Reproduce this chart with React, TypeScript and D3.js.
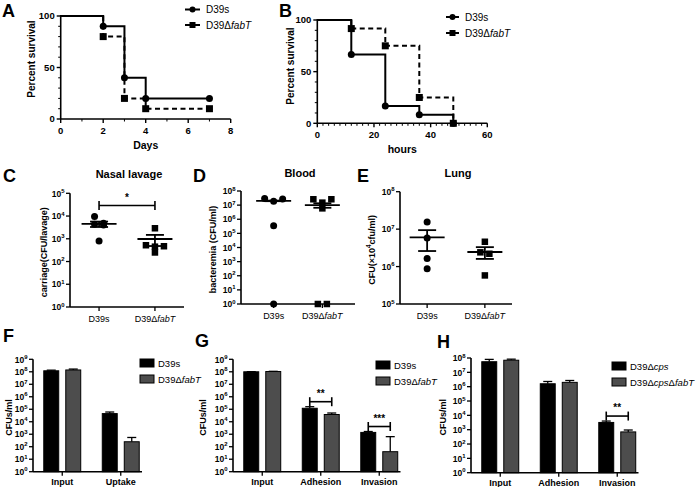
import React from "react";
import * as d3 from "d3";

const FONT = "'Liberation Sans', Arial, Helvetica, sans-serif";

// ---------- Panel A : survival (days)
const daysA = [0, 2, 3, 4, 7];
const survA_D39s = [100, 90, 40, 20, 20];
const survA_fabT = [100, 80, 20, 10, 10];

// ---------- Panel B : survival (hours)
const hoursB = [0, 12, 24, 36, 48];
const survB_D39s = [100, 66.7, 16.7, 8.3, 0];
const survB_fabT = [100, 91.7, 75, 25, 0];

const strains = ["D39s", "D39ΔfabT"];
const cpsStrains = ["D39Δcps", "D39ΔcpsΔfabT"];

// ---------- Panel C : nasal lavage
const nasal_D39s = [9500, 4800, 4300, 4000, 800];
const nasal_fabT = [2900, 520, 470, 450, 250];
const nasalMean = [4500, 980];
const nasalSem = [1200, 500];

// ---------- Panel D : blood
const blood_D39s = [3.0e7, 2.7e7, 1.9e7, 3.4e5, 1];
const blood_fabT = [2.6e7, 2.6e7, 1.5e7, 5.9e6, 1, 1];
const bloodMean = [2.0e7, 1.0e7];
const bloodSem = [1.0e6, 3.5e6];

// ---------- Panel E : lung
const lung_D39s = [1.56e7, 5.8e6, 1.65e6, 8.7e5];
const lung_fabT = [4.6e6, 2.4e6, 2.2e6, 5.8e5];
const lungMean = [6.0e6, 2.45e6];
const lungSem = [3.4e6, 0.85e6];

// ---------- Panel F
const fGroups = ["Input", "Uptake"];
const f_D39s = [1.2e8, 4.5e4];
const f_D39sSem = [1.5e7, 1.5e4];
const f_fabT = [1.4e8, 250];
const f_fabTSem = [2.5e7, 300];

// ---------- Panel G
const gGroups = ["Input", "Adhesion", "Invasion"];
const g_D39s = [1.0e8, 1.2e5, 1.4e3];
const g_D39sSem = [3e6, 4e4, 2.5e2];
const g_fabT = [1.05e8, 3.8e4, 40];
const g_fabTSem = [4e6, 1.2e4, 600];
const gSig = [{ g: 1, stars: "**" }, { g: 2, stars: "***" }];

// ---------- Panel H
const hGroups = ["Input", "Adhesion", "Invasion"];
const h_cps = [5.5e7, 1.6e6, 3.2e3];
const h_cpsSem = [2.5e7, 7e5, 8e2];
const h_cpsFabT = [7.0e7, 2.0e6, 700];
const h_cpsFabTSem = [1.3e7, 7e5, 250];
const hSig = [{ g: 2, stars: "**" }];

const GRAY = "#4d4d4d";

function strainSpans(s: string) {
  const parts = s.split("Δ");
  const out: any[] = [<tspan key="p0">{parts[0]}</tspan>];
  parts.slice(1).forEach((p, i) => {
    out.push(<tspan key={"d" + i}>Δ</tspan>);
    out.push(<tspan key={"i" + i} fontStyle="italic">{p}</tspan>);
  });
  return out;
}

function Letter({ x, y, t }: any) {
  return <text x={x} y={y} fontSize={18} fontWeight="bold">{t}</text>;
}

function Marker({ shape, x, y, s = 7 }: any) {
  if (shape === "circle") return <circle cx={x} cy={y} r={s / 2} fill="black" />;
  return <rect x={x - s / 2} y={y - s / 2} width={s} height={s} fill="black" />;
}

// ---------------- Survival panel
function Survival(p: any) {
  const x = d3.scaleLinear().domain([0, p.xMax]).range([p.x0, p.x1]);
  const y = d3.scaleLinear().domain([0, 100]).range([p.yBot, p.yTop]);
  const line = d3.line<any>().x((d) => x(d[0])).y((d) => y(d[1])).curve(d3.curveStepAfter);
  const majX = d3.range(0, p.xMax + 1e-9, p.xMajor);
  const minX = d3.range(0, p.xMax + 1e-9, p.xMinor).filter((v) => Math.abs(v % p.xMajor) > 1e-9);
  const majY = [0, 50, 100];
  const minY = d3.range(0, 101, 10).filter((v) => v % 50 !== 0);
  const sers = [
    { vals: p.s2, dash: "5,3.5", shape: "square", name: strains[1] },
    { vals: p.s1, dash: null, shape: "circle", name: strains[0] },
  ];
  return (
    <g>
      {sers.map((s, k) => (
        <path key={k} d={line(p.times.map((t: number, i: number) => [t, s.vals[i]])) || ""} fill="none" stroke="black" strokeWidth={2} strokeDasharray={s.dash || undefined} />
      ))}
      {sers.map((s, k) =>
        p.times.slice(1).map((t: number, i: number) => (
          <Marker key={k + "-" + i} shape={s.shape} x={x(t)} y={y(s.vals[i + 1])} s={7} />
        ))
      )}
      <line x1={p.x0} x2={p.x0} y1={p.yTop - 1} y2={p.yBot} stroke="black" strokeWidth={1.6} />
      <line x1={p.x0} x2={p.x1} y1={p.yBot} y2={p.yBot} stroke="black" strokeWidth={1.6} />
      {majY.map((v) => (
        <g key={"my" + v}>
          <line x1={p.x0 - 4} x2={p.x0} y1={y(v)} y2={y(v)} stroke="black" strokeWidth={1.4} />
          <text x={p.x0 - 6} y={y(v) + 3.3} textAnchor="end" fontSize={9.5} fontWeight="bold">{v}</text>
        </g>
      ))}
      {minY.map((v) => (
        <line key={"ny" + v} x1={p.x0 - 2.5} x2={p.x0} y1={y(v)} y2={y(v)} stroke="black" strokeWidth={1} />
      ))}
      {majX.map((v) => (
        <g key={"mx" + v}>
          <line x1={x(v)} x2={x(v)} y1={p.yBot} y2={p.yBot + 4} stroke="black" strokeWidth={1.4} />
          <text x={x(v)} y={p.yBot + 15} textAnchor="middle" fontSize={9.5} fontWeight="bold">{v}</text>
        </g>
      ))}
      {minX.map((v) => (
        <line key={"nx" + v} x1={x(v)} x2={x(v)} y1={p.yBot} y2={p.yBot + 2.5} stroke="black" strokeWidth={1} />
      ))}
      <text x={(p.x0 + p.x1) / 2} y={p.yBot + 30} textAnchor="middle" fontSize={10.5} fontWeight="bold">{p.xLabel}</text>
      <text transform={`translate(${p.yLabelX},${p.yLabelY}) rotate(-90)`} textAnchor="middle" fontSize={10} fontWeight="bold">Percent survival</text>
      {[sers[1], sers[0]].map((s, i) => {
        const ly = p.legY + i * p.legGap;
        return (
          <g key={"lg" + i}>
            <line x1={p.legX} x2={p.legX + p.legW} y1={ly} y2={ly} stroke="black" strokeWidth={2} />
            <Marker shape={s.shape} x={p.legX + p.legW / 2} y={ly} s={6} />
            <text x={p.legX + p.legW + 6} y={ly + 3.5} fontSize={10}>{strainSpans(s.name)}</text>
          </g>
        );
      })}
    </g>
  );
}

// ---------------- log axis
function LogYAxis({ scale, x, exps, size = 8.5, tick = 4 }: any) {
  const r = scale.range();
  return (
    <g>
      <line x1={x} x2={x} y1={r[1]} y2={r[0]} stroke="black" strokeWidth={1.6} />
      {exps.map((e: number) => {
        const yy = scale(Math.pow(10, e));
        return (
          <g key={e}>
            <line x1={x - tick} x2={x} y1={yy} y2={yy} stroke="black" strokeWidth={1.3} />
            <text x={x - tick - 1.5} y={yy + 3.2} textAnchor="end" fontSize={size} fontWeight="bold">
              10<tspan dy={-3.6} fontSize={size * 0.7}>{e}</tspan>
            </text>
          </g>
        );
      })}
    </g>
  );
}

// ---------------- swarm layout
function swarm(values: number[], y: (v: number) => number, spacing: number, rowH: number) {
  const pts = values.map((v) => ({ v, y: y(v) })).sort((a, b) => a.y - b.y);
  const rows: any[][] = [];
  for (const p of pts) {
    const r = rows[rows.length - 1];
    if (r && p.y - r[0].y <= rowH) r.push(p);
    else rows.push([p]);
  }
  const out: any[] = [];
  for (const r of rows) {
    const n = r.length;
    if (n % 2 === 1) {
      const asc = [...r].sort((a, b) => a.v - b.v);
      out.push({ ...asc[0], dx: 0 });
      const rest = asc.slice(1).sort((a, b) => b.v - a.v);
      const slots = d3.range(n).filter((i) => i !== (n - 1) / 2).map((i) => (i - (n - 1) / 2) * spacing);
      rest.forEach((p, i) => out.push({ ...p, dx: slots[i] }));
    } else {
      const desc = [...r].sort((a, b) => b.v - a.v);
      desc.forEach((p, i) => out.push({ ...p, dx: (i - (n - 1) / 2) * spacing }));
    }
  }
  return out;
}

// ---------------- scatter panel
function Scatter(p: any) {
  const y = d3.scaleLog().domain(p.yDomain).range([p.yBot, p.yTop]);
  const x = d3.scalePoint().domain(strains).range([p.x0, p.x1]).padding(p.pad);
  const shapes = ["circle", "square"];
  const exps = d3.range(Math.log10(p.yDomain[0]), Math.log10(p.yDomain[1]) + 0.5);
  let sig: any = null;
  if (p.sig) {
    const maxV = d3.max([...p.data[0], ...p.data[1]]) as number;
    const by = y(maxV) - p.sigGap;
    sig = (
      <g>
        <line x1={x(strains[0])} x2={x(strains[1])} y1={by} y2={by} stroke="black" strokeWidth={1.6} />
        <line x1={x(strains[0])} x2={x(strains[0])} y1={by - 4.5} y2={by + 4.5} stroke="black" strokeWidth={1.6} />
        <line x1={x(strains[1])} x2={x(strains[1])} y1={by - 4.5} y2={by + 4.5} stroke="black" strokeWidth={1.6} />
        <text x={((x(strains[0]) as number) + (x(strains[1]) as number)) / 2} y={by - 4.5} textAnchor="middle" fontSize={10} fontWeight="bold">{p.sig}</text>
      </g>
    );
  }
  return (
    <g>
      <text x={(p.x0 + p.x1) / 2 + 2} y={p.titleY} textAnchor="middle" fontSize={11} fontWeight="bold">{p.title}</text>
      {strains.map((s, k) => {
        const cx = x(s) as number;
        const pts = swarm(p.data[k], y, 9, 7);
        const m = y(p.mean[k]);
        const hi = y(p.mean[k] + p.sem[k]);
        const lo = y(Math.max(p.mean[k] - p.sem[k], p.yDomain[0]));
        return (
          <g key={s}>
            {pts.map((q, i) => (
              <Marker key={i} shape={shapes[k]} x={cx + q.dx} y={q.y} s={k === 0 ? 7 : 6.5} />
            ))}
            <line x1={cx - 17.5} x2={cx + 17.5} y1={m} y2={m} stroke="black" strokeWidth={1.8} />
            <line x1={cx} x2={cx} y1={hi} y2={lo} stroke="black" strokeWidth={1.8} />
            <line x1={cx - 9} x2={cx + 9} y1={hi} y2={hi} stroke="black" strokeWidth={1.8} />
            <line x1={cx - 9} x2={cx + 9} y1={lo} y2={lo} stroke="black" strokeWidth={1.8} />
            <line x1={cx} x2={cx} y1={p.yBot} y2={p.yBot + 4} stroke="black" strokeWidth={1.3} />
            <text x={cx} y={p.yBot + 15} textAnchor="middle" fontSize={9}>{strainSpans(s)}</text>
          </g>
        );
      })}
      {sig}
      <LogYAxis scale={y} x={p.x0} exps={exps} />
      <line x1={p.x0} x2={p.x1} y1={p.yBot} y2={p.yBot} stroke="black" strokeWidth={1.6} />
      <text transform={`translate(${p.yLabelX},${(p.yTop + p.yBot) / 2 + 2}) rotate(-90)`} textAnchor="middle" fontSize={9} fontWeight="bold">
        {p.yLabel}
      </text>
    </g>
  );
}

// ---------------- bar panel
function Bars(p: any) {
  const y = d3.scaleLog().domain(p.yDomain).range([p.yBot, p.yTop]);
  const step = 58.5;
  const gx = d3.scaleBand().domain(p.groups).range([p.x0, p.x0 + step * p.groups.length]);
  const sx = d3.scaleBand().domain(p.names).range([-22, 22]).paddingInner(0.32).paddingOuter(0.16);
  const fills = ["black", GRAY];
  const exps = d3.range(0, Math.log10(p.yDomain[1]) + 0.5);
  const center = (g: string) => (gx(g) as number) + gx.bandwidth() / 2;
  return (
    <g>
      {p.groups.map((g: string, gi: number) => (
        <g key={g}>
          {p.names.map((n: string, k: number) => {
            const bx = center(g) + (sx(n) as number);
            const v = p.vals[k][gi];
            const top = y(v);
            const et = y(v + p.sems[k][gi]);
            const bc = bx + sx.bandwidth() / 2;
            return (
              <g key={n}>
                <line x1={bc} x2={bc} y1={top} y2={et} stroke="black" strokeWidth={1.3} />
                <line x1={bc - 4.5} x2={bc + 4.5} y1={et} y2={et} stroke="black" strokeWidth={1.3} />
                <rect x={bx} y={top} width={sx.bandwidth()} height={p.yBot - top} fill={fills[k]} stroke="black" strokeWidth={1} />
              </g>
            );
          })}
          <line x1={center(g)} x2={center(g)} y1={p.yBot} y2={p.yBot + 4} stroke="black" strokeWidth={1.3} />
          <text x={center(g)} y={p.yBot + 13.5} textAnchor="middle" fontSize={9} fontWeight="bold">{g}</text>
        </g>
      ))}
      {(p.sig || []).map((s: any) => {
        const g = p.groups[s.g];
        const xs = p.names.map((n: string) => center(g) + (sx(n) as number) + sx.bandwidth() / 2);
        const topMost = d3.min(p.names.map((n: string, k: number) => y(p.vals[k][s.g] + p.sems[k][s.g]))) as number;
        const by = topMost - 5;
        return (
          <g key={"s" + s.g}>
            <line x1={xs[0]} x2={xs[1]} y1={by} y2={by} stroke="black" strokeWidth={1.6} />
            <line x1={xs[0]} x2={xs[0]} y1={by - 4.5} y2={by + 4.5} stroke="black" strokeWidth={1.6} />
            <line x1={xs[1]} x2={xs[1]} y1={by - 4.5} y2={by + 4.5} stroke="black" strokeWidth={1.6} />
            <text x={(xs[0] + xs[1]) / 2} y={by - 5} textAnchor="middle" fontSize={10} fontWeight="bold">{s.stars}</text>
          </g>
        );
      })}
      <LogYAxis scale={y} x={p.x0} exps={exps} />
      <line x1={p.x0} x2={p.x0 + step * p.groups.length - 8} y1={p.yBot} y2={p.yBot} stroke="black" strokeWidth={1.6} />
      <text transform={`translate(${p.yLabelX},${(p.yTop + p.yBot) / 2 + 2}) rotate(-90)`} textAnchor="middle" fontSize={9} fontWeight="bold">CFUs/ml</text>
      {p.names.map((n: string, k: number) => (
        <g key={"lg" + n}>
          <rect x={p.legX} y={p.legY + k * 16 - 4} width={14} height={8} fill={fills[k]} stroke="black" strokeWidth={1} />
          <text x={p.legX + 18} y={p.legY + k * 16 + 3.8} fontSize={9.5}>{strainSpans(n)}</text>
        </g>
      ))}
    </g>
  );
}

export default function App() {
  return (
    <svg width={696} height={487} style={{ position: "absolute", left: 0, top: 0, display: "block" }} fontFamily={FONT}>
      <rect width={696} height={487} fill="white" />
      {/* A */}
      <Letter x={2} y={17} t="A" />
      <Survival x0={60.7} x1={230.7} yTop={16} yBot={119} xMax={8} xMajor={2} xMinor={1}
        times={daysA} s1={survA_D39s} s2={survA_fabT} xLabel="Days" yLabelX={35} yLabelY={59}
        legX={185} legW={15} legY={9.5} legGap={15.5} />
      {/* B */}
      <Letter x={279} y={17} t="B" />
      <Survival x0={317.3} x1={487.3} yTop={20} yBot={123.3} xMax={60} xMajor={20} xMinor={2}
        times={hoursB} s1={survB_D39s} s2={survB_fabT} xLabel="hours" yLabelX={294} yLabelY={66}
        legX={446} legW={13} legY={17} legGap={16} />
      {/* C */}
      <Letter x={3} y={182} t="C" />
      <Scatter title="Nasal lavage" titleY={178} x0={70} x1={184} pad={0.52} yTop={193.3} yBot={307}
        yDomain={[1, 1e5]} data={[nasal_D39s, nasal_fabT]} mean={nasalMean} sem={nasalSem}
        sig="*" sigGap={11} yLabel="carriage(CFU/lavage)" yLabelX={47} />
      {/* D */}
      <Letter x={193} y={182} t="D" />
      <Scatter title="Blood" titleY={177} x0={241} x1={355} pad={0.67} yTop={191} yBot={304}
        yDomain={[1, 1e8]} data={[blood_D39s, blood_fabT]} mean={bloodMean} sem={bloodSem}
        yLabel="bacteremia (CFU/ml)" yLabelX={216} />
      {/* E */}
      <Letter x={357} y={182} t="E" />
      <Scatter title="Lung" titleY={177} x0={400} x1={512} pad={0.47} yTop={191.7} yBot={304}
        yDomain={[1e5, 1e8]} data={[lung_D39s, lung_fabT]} mean={lungMean} sem={lungSem}
        yLabel={<>CFU(×10<tspan dy={-4} fontSize={6.5}>4</tspan><tspan dy={4}>cfu/ml)</tspan></>} yLabelX={375} />
      {/* F */}
      <Letter x={3} y={342} t="F" />
      <Bars x0={33} yTop={359.3} yBot={471.7} yDomain={[1, 1e9]} groups={fGroups} names={strains}
        vals={[f_D39s, f_fabT]} sems={[f_D39sSem, f_fabTSem]} yLabelX={12} legX={140} legY={363} />
      {/* G */}
      <Letter x={195} y={347} t="G" />
      <Bars x0={233} yTop={359.3} yBot={471.7} yDomain={[1, 1e9]} groups={gGroups} names={strains}
        vals={[g_D39s, g_fabT]} sems={[g_D39sSem, g_fabTSem]} sig={gSig} yLabelX={206} legX={376} legY={365} />
      {/* H */}
      <Letter x={437} y={348} t="H" />
      <Bars x0={471} yTop={358} yBot={472.7} yDomain={[1, 1e8]} groups={hGroups} names={cpsStrains}
        vals={[h_cps, h_cpsFabT]} sems={[h_cpsSem, h_cpsFabTSem]} sig={hSig} yLabelX={446} legX={612} legY={366} />
    </svg>
  );
}
